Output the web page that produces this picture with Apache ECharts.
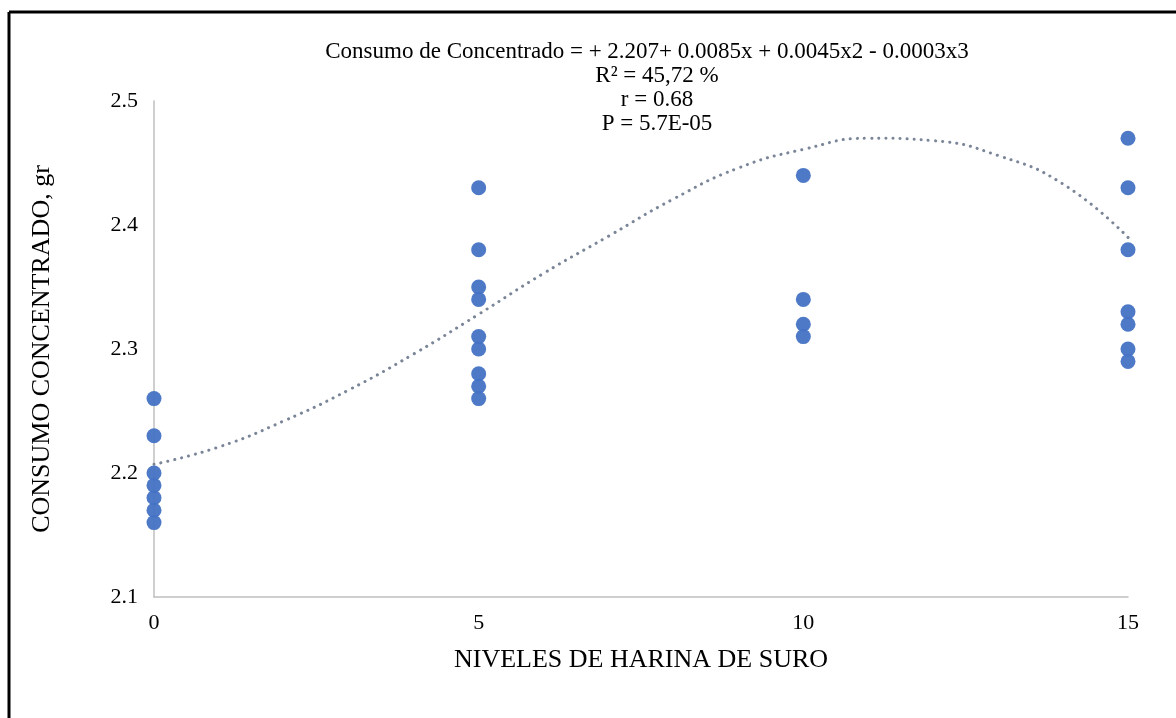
<!DOCTYPE html>
<html>
<head>
<meta charset="utf-8">
<script src="https://cdn.jsdelivr.net/npm/echarts@6/dist/echarts.min.js"></script>
<style>
html,body{margin:0;padding:0;background:#fff;}
#chart{width:1176px;height:718px;}
</style>
</head>
<body>
<div id="chart"></div>
<script>
// Observed data: x = level of harina de suro, y = consumo de concentrado
var level0 = [2.26, 2.23, 2.20, 2.19, 2.18, 2.17, 2.16];
var level5 = [2.43, 2.38, 2.35, 2.34, 2.31, 2.30, 2.28, 2.27, 2.26];
var level10 = [2.44, 2.34, 2.32, 2.31];
var level15 = [2.47, 2.43, 2.38, 2.33, 2.32, 2.30, 2.29];
var levels = [0, 5, 10, 15];
// Trend line values
var trendX = [0, 1, 2, 3, 4, 5, 6, 7, 8, 9, 10, 11, 12, 13, 14, 15];
var trendY = [2.207, 2.221, 2.242, 2.267, 2.296, 2.328, 2.361, 2.391, 2.421, 2.446, 2.461, 2.470, 2.468, 2.456, 2.433, 2.390];
var xTicks = [0, 5, 10, 15];
var yTicks = [2.1, 2.2, 2.3, 2.4, 2.5];
var titleLines = [
  'Consumo de Concentrado = + 2.207+ 0.0085x + 0.0045x2 - 0.0003x3',
  'R\u00b2 = 45,72 %',
  'r = 0.68',
  'P = 5.7E-05'
];

var groups = [level0, level5, level10, level15];
var points = [];
groups.forEach(function (g, i) {
  g.forEach(function (v) { points.push([levels[i], v]); });
});
var trend = trendX.map(function (x, i) { return [x, trendY[i]]; });

var FONT = '"Liberation Serif", "Times New Roman", serif';
var chart = echarts.init(document.getElementById('chart'));
var graphics = [
  { type: 'line', shape: { x1: 9, y1: 12, x2: 1176, y2: 12 }, style: { stroke: '#000', lineWidth: 3 } },
  { type: 'line', shape: { x1: 9, y1: 12, x2: 9, y2: 718 }, style: { stroke: '#000', lineWidth: 3 } }
];
titleLines.forEach(function (t, i) {
  graphics.push({
    type: 'text',
    x: i === 0 ? 647 : 657,
    y: 52 + i * 24,
    style: { text: t, font: '23px ' + FONT, fill: '#000', textAlign: 'center', textVerticalAlign: 'middle' }
  });
});

chart.setOption({
  animation: false,
  backgroundColor: '#fff',
  grid: { left: 154, right: 48, top: 101, bottom: 121, containLabel: false },
  xAxis: {
    type: 'value', min: 0, max: 15, interval: 5,
    name: 'NIVELES DE HARINA DE SURO', nameLocation: 'middle', nameGap: 50,
    nameTextStyle: { fontFamily: FONT, fontSize: 26, color: '#000' },
    axisLine: { show: true, lineStyle: { color: '#bfbfbf', width: 1.5 } },
    axisTick: { show: false },
    splitLine: { show: false },
    axisLabel: { fontFamily: FONT, fontSize: 22, color: '#000', margin: 15,
      formatter: function (v) { return xTicks.indexOf(v) >= 0 ? String(v) : ''; } }
  },
  yAxis: {
    type: 'value', min: 2.1, max: 2.5, interval: 0.1,
    name: 'CONSUMO CONCENTRADO, gr', nameLocation: 'middle', nameGap: 99,
    nameTextStyle: { fontFamily: FONT, fontSize: 26, color: '#000' },
    axisLine: { show: true, lineStyle: { color: '#bfbfbf', width: 1.5 } },
    axisTick: { show: false },
    splitLine: { show: false },
    axisLabel: { fontFamily: FONT, fontSize: 22, color: '#000', margin: 16,
      formatter: function (v) {
        var r = Math.round(v * 10) / 10;
        return yTicks.indexOf(r) >= 0 ? r.toFixed(1) : '';
      } }
  },
  graphic: graphics,
  series: [
    {
      type: 'line', data: trend, smooth: 0.5, symbol: 'none', z: 3,
      lineStyle: { color: '#7a8597', width: 3, type: [0.1, 7], cap: 'round' }
    },
    {
      type: 'scatter', data: points, symbolSize: 15, z: 4,
      itemStyle: { color: '#4472c4', opacity: 0.95 }
    }
  ]
});
</script>
</body>
</html>
